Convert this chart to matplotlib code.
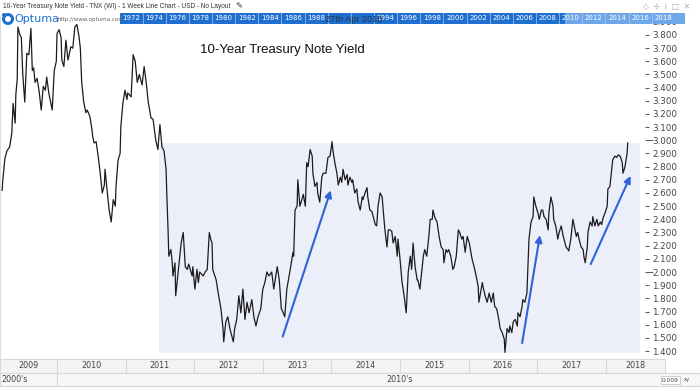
import matplotlib
matplotlib.use("Agg")
import matplotlib.pyplot as plt
from matplotlib.patches import Rectangle, Ellipse

# weekly closes of TNX (decimal year, yield %)
years = [
    2009.20, 2009.21, 2009.24, 2009.27, 2009.31, 2009.34, 2009.36, 2009.39, 2009.40, 2009.42,
    2009.43, 2009.46, 2009.48, 2009.50, 2009.53, 2009.55, 2009.56, 2009.59, 2009.62, 2009.64,
    2009.66, 2009.68, 2009.71, 2009.74, 2009.77, 2009.80, 2009.83, 2009.85, 2009.88, 2009.93,
    2009.96, 2009.99, 2010.00, 2010.03, 2010.06, 2010.07, 2010.10, 2010.13, 2010.16, 2010.19,
    2010.20, 2010.23, 2010.26, 2010.29, 2010.32, 2010.34, 2010.36, 2010.39, 2010.42, 2010.44,
    2010.48, 2010.51, 2010.52, 2010.54, 2010.57, 2010.60, 2010.63, 2010.66, 2010.69, 2010.70,
    2010.73, 2010.76, 2010.79, 2010.82, 2010.85, 2010.86, 2010.89, 2010.92, 2010.93, 2010.96,
    2010.99, 2011.02, 2011.03, 2011.08, 2011.11, 2011.14, 2011.17, 2011.20, 2011.24, 2011.27,
    2011.30, 2011.33, 2011.37, 2011.40, 2011.44, 2011.47, 2011.50, 2011.53, 2011.56, 2011.59,
    2011.60, 2011.62, 2011.63, 2011.66, 2011.68, 2011.69, 2011.72, 2011.73, 2011.76, 2011.81,
    2011.84, 2011.87, 2011.90, 2011.92, 2011.97, 2011.98, 2012.01, 2012.04, 2012.06, 2012.08,
    2012.13, 2012.16, 2012.19, 2012.22, 2012.24, 2012.26, 2012.27, 2012.32, 2012.35, 2012.39,
    2012.42, 2012.43, 2012.46, 2012.49, 2012.52, 2012.57, 2012.59, 2012.62, 2012.65, 2012.68,
    2012.71, 2012.74, 2012.77, 2012.80, 2012.84, 2012.87, 2012.90, 2012.93, 2012.97, 2013.00,
    2013.03, 2013.06, 2013.09, 2013.13, 2013.16, 2013.21, 2013.24, 2013.27, 2013.29, 2013.32,
    2013.35, 2013.40, 2013.44, 2013.45, 2013.47, 2013.50, 2013.51, 2013.54, 2013.57, 2013.59,
    2013.62, 2013.64, 2013.66, 2013.69, 2013.72, 2013.73, 2013.76, 2013.79, 2013.80, 2013.83,
    2013.86, 2013.88, 2013.92, 2013.95, 2013.98, 2014.01, 2014.02, 2014.05, 2014.08, 2014.10,
    2014.13, 2014.15, 2014.17, 2014.20, 2014.23, 2014.24, 2014.27, 2014.30, 2014.31, 2014.34,
    2014.37, 2014.39, 2014.42, 2014.45, 2014.46, 2014.49, 2014.52, 2014.53, 2014.56, 2014.59,
    2014.61, 2014.64, 2014.66, 2014.68, 2014.71, 2014.74, 2014.75, 2014.78, 2014.81, 2014.83,
    2014.85, 2014.88, 2014.90, 2014.93, 2014.96, 2014.97, 2015.00, 2015.03, 2015.06, 2015.09,
    2015.12, 2015.15, 2015.17, 2015.19, 2015.22, 2015.25, 2015.26, 2015.29, 2015.34, 2015.36,
    2015.39, 2015.42, 2015.44, 2015.47, 2015.48, 2015.51, 2015.54, 2015.57, 2015.60, 2015.63,
    2015.64, 2015.67, 2015.69, 2015.71, 2015.74, 2015.77, 2015.79, 2015.82, 2015.85, 2015.87,
    2015.90, 2015.92, 2015.95, 2015.98, 2016.01, 2016.05, 2016.08, 2016.11, 2016.14, 2016.15,
    2016.20, 2016.21, 2016.24, 2016.27, 2016.30, 2016.33, 2016.36, 2016.38, 2016.41, 2016.44,
    2016.46, 2016.49, 2016.52, 2016.53, 2016.56, 2016.59, 2016.60, 2016.63, 2016.65, 2016.68,
    2016.71, 2016.72, 2016.75, 2016.78, 2016.79, 2016.82, 2016.85, 2016.87, 2016.88, 2016.91,
    2016.94, 2016.95, 2016.98, 2017.01, 2017.03, 2017.06, 2017.08, 2017.10, 2017.13, 2017.16,
    2017.17, 2017.20, 2017.23, 2017.24, 2017.27, 2017.30, 2017.32, 2017.35, 2017.38, 2017.39,
    2017.42, 2017.45, 2017.46, 2017.49, 2017.52, 2017.54, 2017.57, 2017.59, 2017.61, 2017.64,
    2017.67, 2017.68, 2017.70, 2017.73, 2017.74, 2017.77, 2017.80, 2017.81, 2017.84, 2017.87,
    2017.89, 2017.92, 2017.94, 2017.96, 2017.99, 2018.02, 2018.03, 2018.06, 2018.09, 2018.10,
    2018.13, 2018.16, 2018.18, 2018.21, 2018.24, 2018.25, 2018.28, 2018.31, 2018.32,
]
yields = [
    2.62, 2.70, 2.86, 2.92, 2.95, 3.05, 3.28, 3.13, 3.35, 3.46,
    3.86, 3.80, 3.78, 3.51, 3.29, 3.55, 3.66, 3.65, 3.85, 3.53,
    3.55, 3.44, 3.47, 3.37, 3.23, 3.41, 3.38, 3.48, 3.36, 3.23,
    3.53, 3.60, 3.81, 3.84, 3.78, 3.61, 3.56, 3.76, 3.61, 3.68,
    3.71, 3.70, 3.86, 3.88, 3.79, 3.70, 3.44, 3.29, 3.21, 3.23,
    3.18, 3.08, 3.03, 2.98, 2.99, 2.88, 2.75, 2.60, 2.66, 2.78,
    2.62, 2.47, 2.38, 2.55, 2.50, 2.65, 2.85, 2.90, 3.10, 3.28,
    3.38, 3.31, 3.36, 3.33, 3.65, 3.60, 3.44, 3.50, 3.42, 3.56,
    3.44, 3.29, 3.17, 3.16, 3.00, 2.93, 3.12, 2.95, 2.92, 2.78,
    2.60, 2.30, 2.12, 2.17, 2.07, 1.97, 2.07, 1.82, 1.97, 2.22,
    2.30, 2.04, 2.02, 2.06, 1.97, 2.04, 1.87, 2.02, 1.92, 2.00,
    1.97, 2.00, 2.02, 2.30, 2.25, 2.22, 2.02, 1.94, 1.84, 1.72,
    1.57, 1.47, 1.62, 1.66, 1.57, 1.47, 1.57, 1.64, 1.82, 1.69,
    1.87, 1.64, 1.77, 1.69, 1.79, 1.66, 1.59, 1.66, 1.72, 1.87,
    1.92, 2.00, 1.97, 2.00, 1.87, 2.04, 1.94, 1.72, 1.70, 1.66,
    1.87, 2.02, 2.15, 2.12, 2.47, 2.50, 2.70, 2.50, 2.55, 2.59,
    2.50, 2.83, 2.80, 2.93, 2.88, 2.75, 2.65, 2.68, 2.60, 2.53,
    2.72, 2.75, 2.75, 2.87, 2.88, 2.99, 2.93, 2.83, 2.75, 2.66,
    2.72, 2.68, 2.78, 2.70, 2.74, 2.66, 2.72, 2.68, 2.70, 2.60,
    2.63, 2.53, 2.47, 2.57, 2.55, 2.60, 2.64, 2.57, 2.47, 2.46,
    2.42, 2.36, 2.35, 2.50, 2.60, 2.57, 2.50, 2.32, 2.19, 2.32,
    2.32, 2.31, 2.22, 2.27, 2.12, 2.25, 2.10, 1.92, 1.82, 1.69,
    2.00, 2.12, 2.02, 2.22, 2.04, 1.94, 1.94, 1.87, 2.12, 2.17,
    2.12, 2.27, 2.40, 2.40, 2.47, 2.41, 2.38, 2.27, 2.19, 2.17,
    2.07, 2.17, 2.15, 2.17, 2.12, 2.02, 2.04, 2.12, 2.32, 2.30,
    2.25, 2.27, 2.15, 2.27, 2.22, 2.10, 2.04, 1.97, 1.89, 1.77,
    1.92, 1.89, 1.82, 1.77, 1.84, 1.77, 1.84, 1.74, 1.72, 1.64,
    1.57, 1.54, 1.49, 1.39, 1.57, 1.54, 1.59, 1.54, 1.62, 1.64,
    1.59, 1.69, 1.66, 1.74, 1.79, 1.77, 1.84, 2.10, 2.25, 2.38,
    2.42, 2.57, 2.50, 2.45, 2.40, 2.47, 2.47, 2.42, 2.40, 2.32,
    2.45, 2.57, 2.50, 2.40, 2.35, 2.25, 2.30, 2.35, 2.27, 2.25,
    2.19, 2.17, 2.16, 2.25, 2.40, 2.35, 2.27, 2.30, 2.25, 2.19,
    2.17, 2.12, 2.07, 2.19, 2.30, 2.38, 2.35, 2.42, 2.35, 2.40,
    2.35, 2.38, 2.36, 2.41, 2.45, 2.50, 2.63, 2.65, 2.80, 2.85,
    2.88, 2.87, 2.89, 2.88, 2.83, 2.75, 2.80, 2.90, 2.98,
]

y_ticks = [1.4, 1.5, 1.6, 1.7, 1.8, 1.9, 2.0, 2.1, 2.2, 2.3, 2.4, 2.5, 2.6,
           2.7, 2.8, 2.9, 3.0, 3.1, 3.2, 3.3, 3.4, 3.5, 3.6, 3.7, 3.8, 3.9]
year_labels = list(range(2009, 2019))
# 1990 and 1992 sit under the date stamp in the overview bar
overview_years = [y for y in range(1972, 2019, 2) if y not in (1990, 1992)]

# shaded zone and the three arrows (data coords)
zone = (2011.49, 2018.50, 1.385, 2.98)
arrows = [((2013.29, 1.51), (2013.99, 2.62)),
          ((2016.78, 1.46), (2017.04, 2.28)),
          ((2017.78, 2.06), (2018.36, 2.73))]

W, H = 700, 391
X0, X_PER_PX = 2009.169, 1 / 68.6


def fx(px):
    return px / W


def fy(py):
    return 1 - py / H


fig = plt.figure(figsize=(7, 3.91), dpi=100)
fig.patch.set_facecolor("white")

# ---- main price panel
ax = fig.add_axes([0, fy(358), fx(645), (358 - 16) / H])
ax.set_xlim(X0, X0 + 645 * X_PER_PX)
ax.set_ylim(1.347, 3.944)
ax.add_patch(Rectangle((zone[0], zone[2]), zone[1] - zone[0], zone[3] - zone[2],
                       facecolor="#eceffa", edgecolor="none", zorder=0))
ax.plot(years, yields, color="#1c1c1c", lw=0.9, zorder=2)
for tail, head in arrows:
    ax.annotate("", xy=head, xytext=tail,
                arrowprops=dict(arrowstyle="-|>", color="#2f63d8", lw=1.5,
                                mutation_scale=10, shrinkA=0, shrinkB=0), zorder=3)

ax.set_xticks([])
ax.yaxis.tick_right()
ax.set_yticks(y_ticks)
ax.set_yticklabels([f"{t:.3f}" for t in y_ticks])
ax.tick_params(axis="y", length=3, width=0.7, color="#555", labelsize=6.3,
               labelcolor="#444", pad=2)
for t, tk in zip(y_ticks, ax.yaxis.get_major_ticks()):
    if t in (2.0, 3.0):
        tk.tick2line.set_markersize(6)
for s in ["top", "right", "bottom"]:
    ax.spines[s].set_visible(False)
ax.spines["left"].set_color("#dddddd")

ax.text(2012.085, 3.686, "10-Year Treasury Note Yield", fontsize=9.5,
        family="Liberation Sans", color="#111", va="center")

# ---- overview bar at the top
hb = fig.add_axes([fx(120), fy(24), fx(565), 11 / H])
hb.set_xlim(1971.05, 2019.88)
hb.set_ylim(0, 1)
hb.set_axis_off()
hb.add_patch(Rectangle((1971.05, 0), 48.83, 1, facecolor="#1f6fd1", edgecolor="none"))
hb.add_patch(Rectangle((2009.5, 0), 10.38, 1, facecolor="#6ea8ea", edgecolor="none"))
for yr in range(1972, 2019, 2):
    hb.axvline(yr - 1, color="#a9caf2", lw=0.5)
for yr in overview_years:
    hb.text(yr, 0.5, str(yr), color="white", fontsize=5, ha="center", va="center")
fig.text(fx(325), fy(19), "27th Apr 2018", fontsize=6.6, family="Liberation Sans",
         color="#2a2a2a", va="center", alpha=0.85)

# ---- header texts and logo
fig.text(fx(3), fy(6), "10-Year Treasury Note Yield - TNX (WI) - 1 Week Line Chart - USD - No Layout",
         fontsize=4.7, family="Liberation Sans", color="#333", va="center")
fig.text(fx(235), fy(6), "✎", fontsize=6, color="#333", va="center")
fig.text(fx(643), fy(6), "◇  ✢  i  □  ✕", fontsize=5.5, color="#aaaaaa", va="center")
fig.add_artist(Ellipse((fx(8), fy(19)), 9 / W, 9 / H, transform=fig.transFigure,
                       facecolor="none", edgecolor="#1f6fd1", lw=2.2))
fig.add_artist(Ellipse((fx(4), fy(15)), 4 / W, 4 / H, transform=fig.transFigure,
                       facecolor="#1f6fd1", edgecolor="none"))
fig.text(fx(14), fy(19), "Optuma", fontsize=8, color="#1f6fd1", va="center")
fig.text(fx(57), fy(19), "http://www.optuma.com", fontsize=4, color="#666", va="center")

# ---- date strip: years
yr_ax = fig.add_axes([0, fy(373), fx(665), 14 / H])
x_end = X0 + 665 * X_PER_PX
yr_ax.set_xlim(X0, x_end)
yr_ax.set_ylim(0, 1)
yr_ax.set_facecolor("#f4f4f4")
yr_ax.set_xticks([])
yr_ax.set_yticks([])
for s in yr_ax.spines.values():
    s.set_color("#d8d8d8")
    s.set_linewidth(0.8)
for yr in year_labels:
    if yr > year_labels[0]:
        yr_ax.axvline(yr, color="#d8d8d8", lw=0.8)
    mid = (max(yr, X0) + min(yr + 1, x_end)) / 2
    yr_ax.text(mid, 0.5, str(yr), fontsize=5.8, color="#444", ha="center", va="center")

# ---- date strip: decades
dc = fig.add_axes([0, fy(386), 1, 13 / H])
dc.set_xlim(X0, X0 + 700 * X_PER_PX)
dc.set_ylim(0, 1)
dc.set_facecolor("#f7f7f7")
dc.set_xticks([])
dc.set_yticks([])
for s in dc.spines.values():
    s.set_color("#d8d8d8")
    s.set_linewidth(0.8)
dc.axvline(2010, color="#d8d8d8", lw=0.8)
dc.text(X0 + 0.02, 0.5, "2000's", fontsize=5.8, color="#444", va="center")
dc.text(2015.0, 0.5, "2010's", fontsize=5.8, color="#444", ha="center", va="center")
fig.text(fx(662), fy(380), "0.009", fontsize=4.2, color="#444", va="center",
         bbox=dict(boxstyle="square,pad=0.25", facecolor="white", edgecolor="#bbbbbb", lw=0.5))
fig.text(fx(684), fy(380), "xy", fontsize=3.8, color="#444", va="center")

fig.savefig("out.png", dpi=100)
